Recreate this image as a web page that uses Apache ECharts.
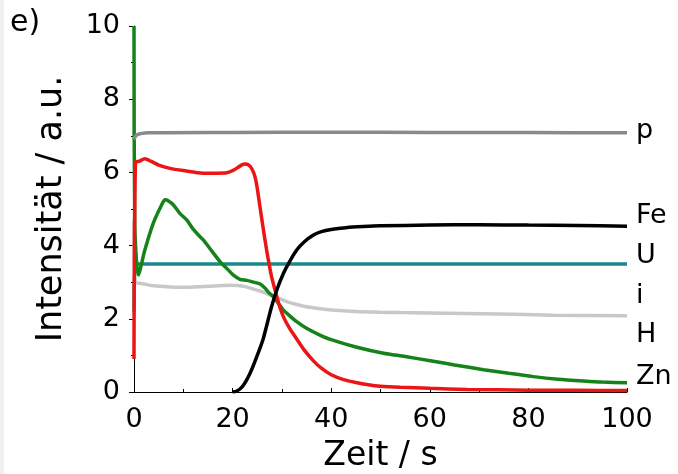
<!DOCTYPE html>
<html>
<head>
<meta charset="utf-8">
<script src="https://cdn.jsdelivr.net/npm/echarts@6/dist/echarts.min.js"></script>
<style>
  html, body { margin: 0; padding: 0; background: #fff; }
  #main { width: 678px; height: 474px; }
</style>
</head>
<body>
<div id="main"></div>
<script>
// Messdaten [Zeit s, Intensität a.u.]
const pData = [[0, 6.9], [0.5, 7.02], [3, 7.08], [20, 7.09], [40, 7.1], [60, 7.09], [80, 7.09], [100, 7.08]];
const feData = [[20, 0], [20.8, 0.02], [22, 0.15], [23.5, 0.5], [25, 1.0], [26.2, 1.45], [27.9, 2.33], [29, 2.8],
  [30.3, 3.24], [31.5, 3.55], [33, 3.88], [34.5, 4.1], [36.4, 4.29], [38, 4.38], [40, 4.44], [43, 4.49],
  [46.5, 4.52], [50, 4.54], [60, 4.56], [70, 4.57], [80, 4.56], [90, 4.55], [100, 4.53]];
const uData = [[0, 2.2], [0.2, 3.5], [50, 3.5], [100, 3.5]];
const iData = [[0, 4.7], [0.3, 3.0], [1.2, 2.97], [4, 2.9], [7.3, 2.87], [10, 2.86], [14, 2.88], [17, 2.9],
  [19.5, 2.92], [21, 2.91], [22.5, 2.88], [24.2, 2.81], [25.6, 2.76], [27, 2.68], [28.9, 2.58], [31, 2.47],
  [33, 2.39], [35, 2.33], [37.5, 2.28], [40, 2.24], [45, 2.2], [50, 2.18], [54, 2.17], [60, 2.16],
  [74, 2.13], [85, 2.1], [100, 2.08]];
const redData = [[0, 0.9], [0.3, 6.28], [1, 6.3], [2.2, 6.37], [3.5, 6.3], [5, 6.2], [7.3, 6.11], [10, 6.05],
  [14, 5.98], [17, 5.98], [18.8, 5.99], [20, 6.05], [20.8, 6.11], [21.8, 6.2], [22.5, 6.23], [23.3, 6.2],
  [23.9, 6.1], [24.5, 5.9], [24.9, 5.65], [25.4, 5.2], [25.9, 4.75], [26.4, 4.3], [26.9, 3.88], [27.4, 3.5],
  [27.9, 3.15], [28.6, 2.79], [29.4, 2.4], [30.3, 2.06], [31.5, 1.75], [33, 1.45], [34.5, 1.15], [36.4, 0.85],
  [38, 0.65], [40, 0.47], [42.5, 0.34], [45, 0.26], [47.5, 0.2], [50, 0.16], [54, 0.13], [60, 0.1],
  [67.5, 0.07], [80, 0.05], [90, 0.045], [100, 0.04]];
const greenData = [[0, 10], [0.15, 4.6], [0.9, 3.2], [2.2, 3.88], [3.9, 4.61], [5.6, 5.11], [6.3, 5.25], [7, 5.22],
  [8, 5.11], [9.3, 4.88], [10.7, 4.7], [12, 4.45], [13.4, 4.24], [14.1, 4.15], [15.5, 3.9], [17.4, 3.57],
  [19, 3.35], [20.1, 3.2], [21.5, 3.08], [22.9, 3.05], [24.9, 2.98], [25.6, 2.95], [26.5, 2.85], [27.3, 2.72],
  [28.3, 2.6], [29.3, 2.42], [30.3, 2.24], [31, 2.15], [33, 1.92], [35, 1.74], [37.5, 1.57], [40, 1.43],
  [45, 1.23], [50.6, 1.06], [55, 0.97], [60.7, 0.84], [65, 0.74], [70.9, 0.61], [76, 0.51], [81, 0.42],
  [86, 0.35], [91.2, 0.3], [95, 0.27], [100, 0.25]];

const curveLabels = ['p', 'Fe', 'U', 'i', 'H', 'Zn'];
const labelY = [131, 216, 256, 296, 335, 377];

const font = 'DejaVu Sans';

const chart = echarts.init(document.getElementById('main'), null, { renderer: 'canvas' });

function line(data, color, z) {
  return {
    type: 'line',
    data: data,
    showSymbol: false,
    smooth: 0.25,
    z: z,
    lineStyle: { color: color, width: 3.5 },
    itemStyle: { color: color },
    animation: false
  };
}

const option = {
  animation: false,
  backgroundColor: '#fff',
  grid: { left: 134, right: 51, top: 26, bottom: 82, outerBoundsMode: 'none', containLabel: false },
  xAxis: {
    type: 'value',
    min: 0, max: 100, interval: 20,
    name: 'Zeit / s',
    nameLocation: 'middle',
    nameGap: 48,
    nameTextStyle: { fontFamily: font, fontSize: 33, color: '#000' },
    axisLine: { lineStyle: { color: '#000', width: 1 } },
    axisTick: { inside: true, length: 4, lineStyle: { color: '#000' } },
    minorTick: { show: true, splitNumber: 2, length: 3, lineStyle: { color: '#000' } },
    splitLine: { show: false },
    axisLabel: { fontFamily: font, fontSize: 27, color: '#000', margin: 14 }
  },
  yAxis: {
    type: 'value',
    min: 0, max: 10, interval: 2,
    name: 'Intensität / a.u.',
    nameLocation: 'middle',
    nameGap: 65,
    nameTextStyle: { fontFamily: font, fontSize: 35, color: '#000' },
    axisLine: { show: true, lineStyle: { color: '#000', width: 1 } },
    axisTick: { show: true, length: 5, lineStyle: { color: '#000' } },
    minorTick: { show: true, splitNumber: 2, length: 3, lineStyle: { color: '#000' } },
    splitLine: { show: false },
    axisLabel: { fontFamily: font, fontSize: 27, color: '#000', margin: 14 }
  },
  series: [
    line(iData, '#c8c8c8', 2),
    line(uData, '#1b8a8e', 3),
    line(greenData, '#15831a', 4),
    line(redData, '#ec1515', 5),
    line(feData, '#000000', 6),
    line(pData, '#8a8a8a', 7)
  ],
  graphic: [
    { type: 'rect', left: 0, top: 0, shape: { width: 4, height: 474 }, style: { fill: '#f0f0f0' }, silent: true },
    { type: 'text', left: 10, top: 8, style: { text: 'e)', font: '30px "DejaVu Sans"', fill: '#000' } }
  ].concat(curveLabels.map((t, k) => ({
    type: 'text',
    x: 636,
    y: labelY[k],
    style: { text: t, font: '27px "DejaVu Sans"', fill: '#000', verticalAlign: 'middle' }
  })))
};

chart.setOption(option);
</script>
</body>
</html>
